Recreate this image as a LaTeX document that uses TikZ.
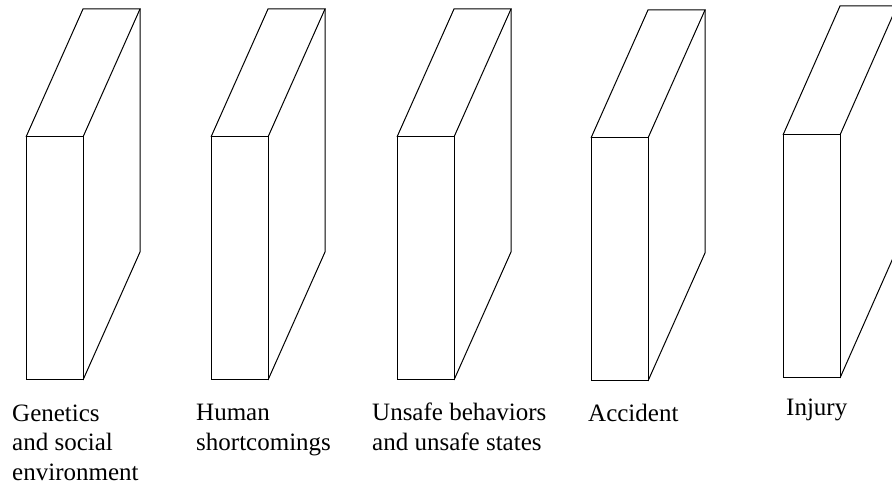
\documentclass[tikz,border=0pt]{standalone}
\usepackage{fontspec}
\setmainfont{Liberation Serif}
\begin{document}
\begin{tikzpicture}[x=1pt,y=-1pt,
  edge/.style={draw=black,line width=1pt,line join=miter},
  lbl/.style={anchor=base west,inner sep=0pt,align=left,
    font=\fontsize{25}{29.5}\selectfont}]
\useasboundingbox (0,0) rectangle (892,486);
\clip (0,0) rectangle (892,486);
% slab: front rectangle, top face, side face
\foreach \x/\t/\b/\d in {26/137/380/128, 211/137/380/128, 397/137/380/128, 591/138/381/128, 783/135/378/129}{
  \draw[edge] (\x,\t) rectangle (\x+57,\b);
  \draw[edge] (\x,\t) -- (\x+57,\t-\d) -- (\x+114,\t-\d) -- (\x+57,\t);
  \draw[edge] (\x+57,\b) -- (\x+114,\b-\d) -- (\x+114,\t-\d);
}
% anchor = baseline of the last line
\node[lbl] (l1) at (12,480) {Genetics\\and social\\environment};
\node[lbl] (l2) at (196,450) {Human\\shortcomings};
\node[lbl] (l3) at (372,450) {Unsafe behaviors\\and unsafe states};
\node[lbl] (l4) at (588,421) {Accident};
\node[lbl] (l5) at (786,415) {Injury};
\end{tikzpicture}
\end{document}
